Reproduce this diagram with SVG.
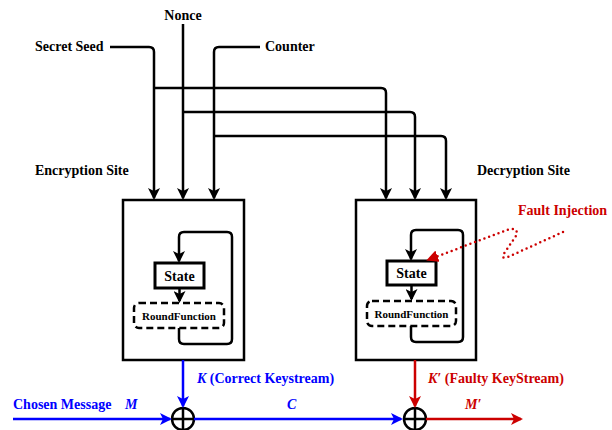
<svg xmlns="http://www.w3.org/2000/svg" width="612" height="430" viewBox="0 0 612 430">
<style>
text{font-family:"Liberation Serif","Times New Roman",serif;font-weight:bold;font-size:14px}
.k{fill:#000}
.b{fill:#0000ff}
.r{fill:#cc0000}
.ln{fill:none;stroke:#000;stroke-width:2.5}
.bl{fill:none;stroke:#0000ff;stroke-width:2.5}
.rl{fill:none;stroke:#cc0000;stroke-width:2.5}
.box{fill:#fff;stroke:#000;stroke-width:2.5}
.st{fill:#fff;stroke:#000;stroke-width:3}
.rf{fill:#fff;stroke:#000;stroke-width:2.5;stroke-dasharray:7,4}
.small{font-size:11px}
</style>
<defs>
<marker id="ak" viewBox="0 0 12 12" markerWidth="12" markerHeight="12" refX="10" refY="6" orient="auto" markerUnits="userSpaceOnUse"><path d="M0,0 L12,6 L0,12 L3,6 z" fill="#000"/></marker>
<marker id="ab" viewBox="0 0 12 12" markerWidth="12" markerHeight="12" refX="10" refY="6" orient="auto" markerUnits="userSpaceOnUse"><path d="M0,0 L12,6 L0,12 L3,6 z" fill="#0000ff"/></marker>
<marker id="ar" viewBox="0 0 12 12" markerWidth="12" markerHeight="12" refX="10" refY="6" orient="auto" markerUnits="userSpaceOnUse"><path d="M0,0 L12,6 L0,12 L3,6 z" fill="#cc0000"/></marker>
<marker id="af" viewBox="0 0 12 12" markerWidth="12" markerHeight="12" refX="8" refY="6" orient="auto" markerUnits="userSpaceOnUse"><path d="M0,0 L12,6 L0,12 z" fill="#cc0000"/></marker>
</defs>

<g id="enc">
<rect class="box" x="123" y="200" width="121" height="160"/>
<text class="k" x="35" y="175">Encryption Site</text>
</g>
<g id="enc-state">
<rect class="st" x="155" y="263" width="49" height="25"/>
<text class="k" x="179.5" y="281" text-anchor="middle">State</text>
</g>
<g id="enc-round">
<rect class="rf" x="134" y="303" width="90" height="25" rx="5"/>
<text class="k small" x="179" y="320" text-anchor="middle">RoundFunction</text>
</g>

<g id="dec">
<rect class="box" x="356" y="200" width="120" height="160"/>
<text class="k" x="477" y="175">Decryption Site</text>
</g>
<g id="dec-state">
<rect class="st" x="387" y="261" width="49" height="24"/>
<text class="k" x="411.5" y="278" text-anchor="middle">State</text>
</g>
<g id="dec-round">
<rect class="rf" x="367" y="301" width="89" height="25" rx="5"/>
<text class="k small" x="411.5" y="318" text-anchor="middle">RoundFunction</text>
</g>

<g id="inputs">
<text class="k" x="35" y="51">Secret Seed</text>
<text class="k" x="183" y="20" text-anchor="middle">Nonce</text>
<text class="k" x="265" y="51">Counter</text>
</g>

<g id="fault">
<text class="r" x="518" y="215">Fault Injection</text>
</g>

<g id="xor1">
<circle cx="183" cy="419" r="11" fill="#fff" stroke="#000" stroke-width="2.5"/>
<path class="ln" d="M172,419 H194 M183,408 V430"/>
</g>
<g id="xor2">
<circle cx="415" cy="419" r="11" fill="#fff" stroke="#000" stroke-width="2.5"/>
<path class="ln" d="M404,419 H426 M415,408 V430"/>
</g>

<g id="labels">
<text class="b" x="13" y="409">Chosen Message</text>
<text class="b" x="125" y="409" font-style="italic">M</text>
<text class="b" x="197" y="383"><tspan font-style="italic">K</tspan> (Correct Keystream)</text>
<text class="b" x="287" y="409" font-style="italic">C</text>
<text class="r" x="428" y="383"><tspan font-style="italic">K′</tspan> (Faulty KeyStream)</text>
<text class="r" x="465" y="409" font-style="italic">M′</text>
</g>

<g id="connectors">
<path class="ln" marker-end="url(#ak)" d="M110,47 H149 Q154,47 154,52 V198"/>
<path class="ln" marker-end="url(#ak)" d="M183,24 V198"/>
<path class="ln" marker-end="url(#ak)" d="M260,47 H219 Q214,47 214,52 V198"/>
<path class="ln" marker-end="url(#ak)" d="M154,88 H381 Q386,88 386,93 V198"/>
<path class="ln" marker-end="url(#ak)" d="M183,112 H410 Q415,112 415,117 V198"/>
<path class="ln" marker-end="url(#ak)" d="M214,136 H441 Q446,136 446,141 V198"/>

<path class="ln" marker-end="url(#ak)" d="M179.5,288 V301"/>
<path class="ln" marker-end="url(#ak)" d="M179,328 V339 Q179,344 184,344 H227 Q232,344 232,339 V237 Q232,232 227,232 H184 Q179,232 179,237 V261"/>
<path class="ln" marker-end="url(#ak)" d="M411.5,285 V299"/>
<path class="ln" marker-end="url(#ak)" d="M411,326 V337 Q411,342 416,342 H458 Q463,342 463,337 V235 Q463,230 458,230 H416 Q411,230 411,235 V259"/>

<path fill="none" stroke="#cc0000" stroke-width="2.5" stroke-linecap="round" stroke-dasharray="0,5" marker-end="url(#af)" d="M563,232 L508,257 Q500,260 505,252 L516,236 Q519,228 510,229 L430,259"/>

<path class="bl" marker-end="url(#ab)" d="M183,360 V406"/>
<path class="bl" marker-end="url(#ab)" d="M13,419 H170"/>
<path class="bl" marker-end="url(#ab)" d="M194,419 H401"/>
<path class="rl" marker-end="url(#ar)" d="M415,360 V406"/>
<path class="rl" marker-end="url(#ar)" d="M426,419 H521"/>
</g>
</svg>
